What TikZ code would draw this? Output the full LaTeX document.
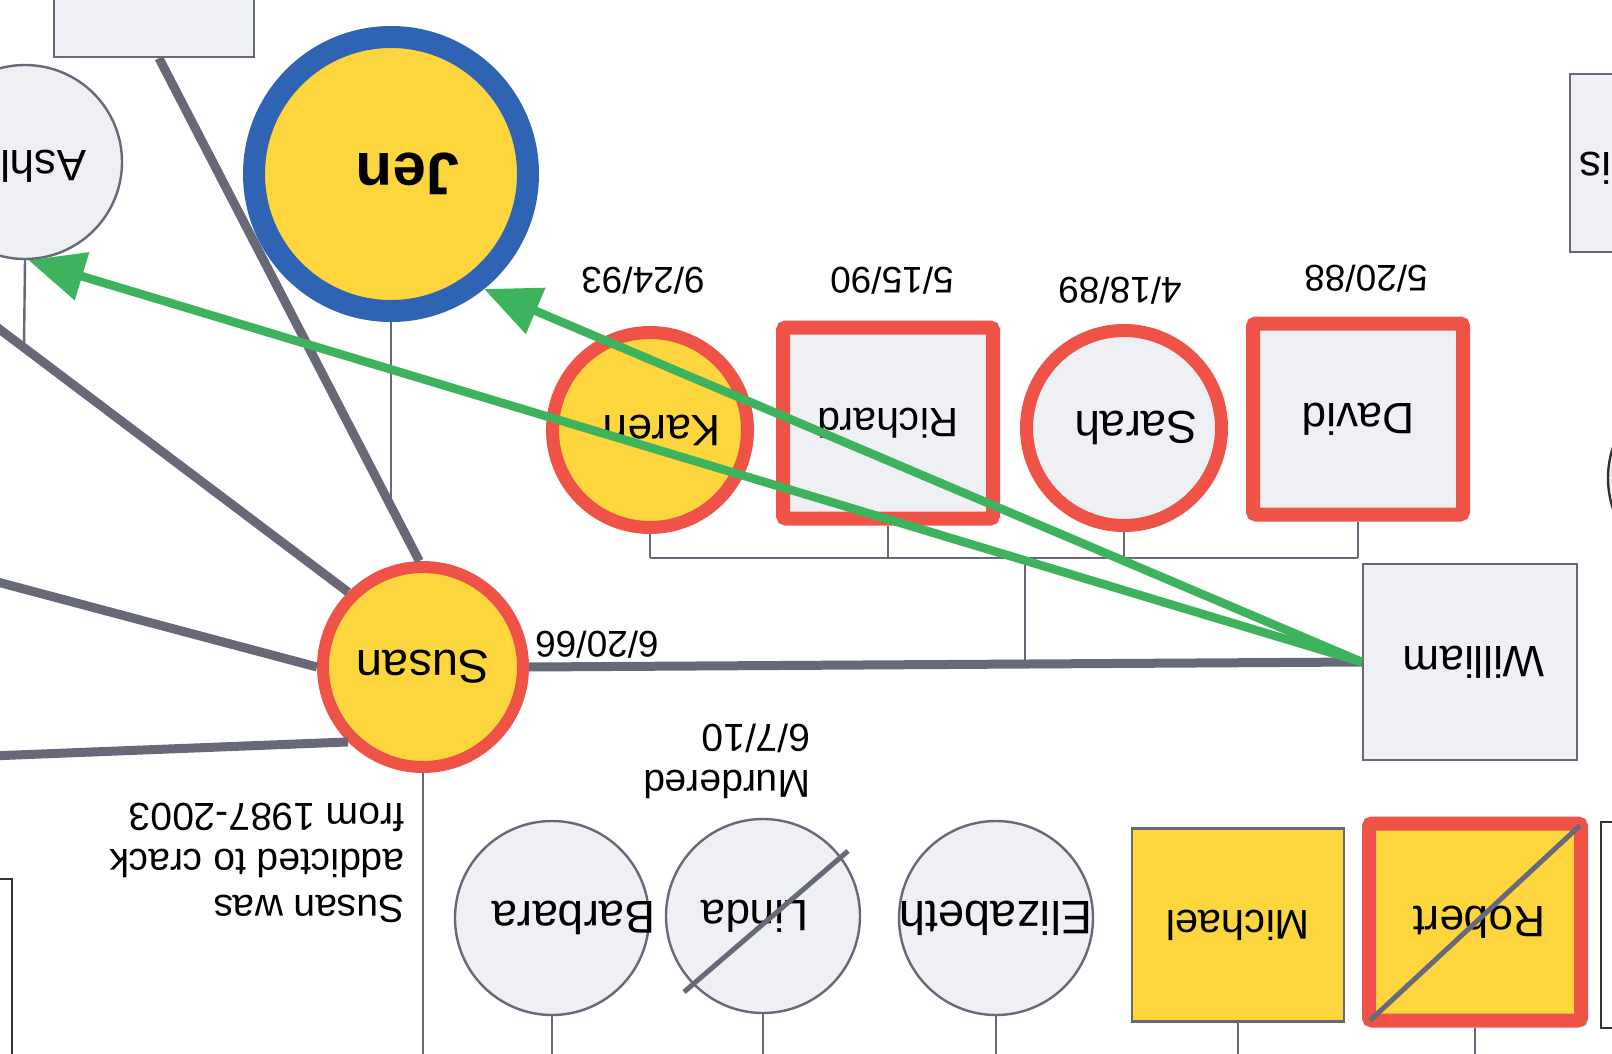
\documentclass[tikz,border=0pt]{standalone}
\usepackage{fontspec}
\setmainfont{Liberation Sans}
\usepackage{graphicx}
\usetikzlibrary{arrows.meta,calc}
\definecolor{pfill}{HTML}{EEF0F4}
\definecolor{pyel}{HTML}{FCD63C}
\definecolor{pred}{HTML}{EF5348}
\definecolor{pblue}{HTML}{2F63B4}
\definecolor{pgray}{HTML}{676979}
\definecolor{pgreen}{HTML}{3DB35E}
% rotated text (upside down), shifted right by #1/2, zero width
\newcommand{\upx}[2]{\makebox[0pt]{\hspace*{#1}\rotatebox[origin=c]{180}{#2}}}
\newcommand{\up}[1]{\upx{0pt}{#1}}
\begin{document}
\begin{tikzpicture}[x=0.5pt,y=-0.5pt,
  every node/.style={inner sep=0pt},
  namefont/.style={font=\fontsize{22}{25}\selectfont},
  datefont/.style={font=\fontsize{18.5}{21}\selectfont},
  notefont/.style={font=\fontsize{19.5}{23}\selectfont},
  fem/.style={circle, draw=pgray, line width=1.2pt, fill=pfill, minimum size=97pt, namefont},
  femred/.style={circle, draw=pred, line width=6.5pt, fill=pfill, minimum size=97.5pt, namefont},
  male/.style={rectangle, draw=pgray, line width=1.2pt, fill=pfill, namefont},
  malered/.style={rectangle, draw=pred, line width=7pt, fill=pfill, rounded corners=1.5pt, namefont,
     minimum width=105pt, minimum height=95.5pt},
  thickline/.style={draw=pgray, line width=4.5pt},
  thinline/.style={draw=pgray, line width=1.2pt},
  slash/.style={draw=pgray, line width=2.5pt},
  greenarrow/.style={draw=pgreen, line width=4.3pt, -{Triangle[length=28pt,width=24pt]}},
  rotnote/.style={rotate=180, align=left, notefont}
]
\clip (0,0) rectangle (1612,1054);
\fill[white] (0,0) rectangle (1612,1054);

% partial elements at the edges
\node[male, minimum width=100pt, minimum height=45pt] (topbox) at (154,12) {};
\node[male, minimum width=110pt, minimum height=89pt] (rbox) at (1680,163) {};
\node[namefont] (rtext) at (1631,168) {\up{Chris}};
\node[fem, draw=black!80] (rcircle) at (1705,478) {};
\node[male, draw=black!80, fill=white, minimum width=110pt, minimum height=120pt] (lbbox) at (-98,999) {};
\node[male, draw=black!80, fill=white, minimum width=110pt, minimum height=103pt] (rbbox) at (1711,925) {};

% persons
\node[fem] (Ashley) at (25,162) {\upx{-5pt}{Ashley}};
\node[circle, draw=pblue, line width=11pt, fill=pyel, minimum size=137pt,
      font=\fontsize{30}{34}\selectfont\bfseries] (Jen) at (391,174) {\upx{17pt}{Jen}};
\node[circle, draw=pred, line width=6pt, fill=pyel, minimum size=100pt,
      font=\fontsize{23.5}{26}\selectfont] (Susan) at (423,667) {\up{Susan}};
\node[male, minimum width=107pt, minimum height=98pt] (William) at (1470,662) {\upx{4pt}{William}};
\node[malered] (David) at (1358,419) {\up{David}};
\node[femred, font=\fontsize{23}{25}\selectfont] (Sarah) at (1124,428) {\upx{12pt}{Sarah}};
\node[malered, font=\fontsize{20.5}{24}\selectfont] (Richard) at (888,423) {\up{Richard}};
\node[femred, fill=pyel] (Karen) at (650,430) {\upx{12pt}{Karen}};
\node[fem, font=\fontsize{23}{25}\selectfont] (Barbara) at (552,918) {\upx{21.5pt}{Barbara}};
\node[fem] (Linda) at (763,916) {\upx{-8pt}{Linda}};
\node[fem, font=\fontsize{23.5}{25}\selectfont] (Elizabeth) at (996,918) {\up{Elizabeth}};
\node[male, fill=pyel, minimum width=106pt, minimum height=96.5pt,
      font=\fontsize{20.8}{24}\selectfont] (Michael) at (1238,925) {\up{Michael}};
\node[rectangle, draw=pred, line width=7pt, fill=pyel, rounded corners=1.5pt, namefont,
      minimum width=106pt, minimum height=98.5pt] (Robert) at (1475,922) {\upx{4pt}{Robert}};

% dates and notes
\node[datefont] (dDavid) at (1366,279) {\up{5/20/88}};
\node[datefont] (dSarah) at (1120,291) {\up{4/18/89}};
\node[datefont] (dRichard) at (892,281) {\up{5/15/90}};
\node[datefont] (dKaren) at (643,281) {\up{9/24/93}};
\node[datefont] (dMarriage) at (597,645) {\up{6/20/66}};
\node[rotnote] (note) at (257,863) {Susan was\\addicted to crack\\from 1987-2003};
\node[rotnote] (murder) at (727,761) {Murdered\\6/7/10};

% coordinates
\coordinate (bar) at (1025,558);
\coordinate (tb) at ($(topbox.south)+(5,0)$);
\coordinate (jenend) at (391,506);
\coordinate (ashend) at (24,347);
\coordinate (L1) at (-10,322);
\coordinate (L2) at (-10,580);
\coordinate (L3) at (-10,756);

% sibling connectors
\draw[thinline] (Karen.south |- bar) -- (David.south |- bar);
\foreach \c in {Karen,Richard,Sarah,David} \draw[thinline] (\c.south) -- (\c.south |- bar);
\draw[thinline] (bar) -- (bar |- Susan.east);

% thin descent lines
\draw[thinline] (Jen.south) -- (jenend);
\draw[thinline] (Ashley.south) -- (ashend);
\foreach \c in {Susan,Barbara,Linda,Elizabeth,Michael,Robert} \draw[thinline] (\c.south) -- ++(0,400);

% thick relationship lines
\draw[thickline] (Susan.east) -- (William.west);
\draw[thickline] (tb) -- (Susan.92);
\draw[thickline] (L1) -- (Susan.135);
\draw[thickline] (L2) -- (Susan.180);
\draw[thickline] (L3) -- (Susan.225);

% deceased slashes
\draw[slash] ($(Linda.center)+(-79,76)$) -- ($(Linda.center)+(85,-65)$);
\draw[slash] ($(Robert.south west)+(8,-7)$) -- ($(Robert.north east)+(-8,9)$);

% green arrows
\draw[greenarrow] (William.west) -- (Ashley.-88);
\draw[greenarrow] (William.west) -- (Jen.-51);
\end{tikzpicture}
\end{document}
